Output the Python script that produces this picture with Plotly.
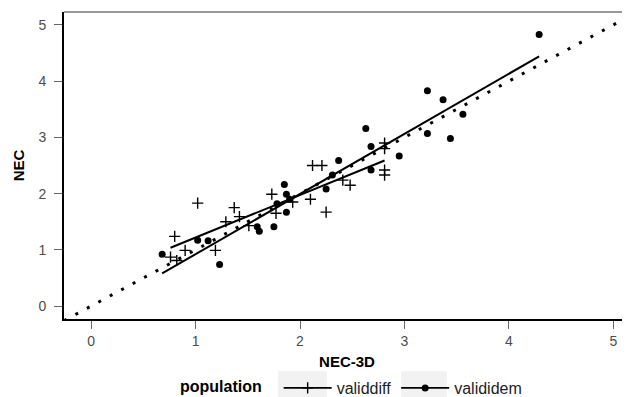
import numpy as np
import plotly.graph_objects as go

# validdiff group (crosses)
diff_x = [0.76, 0.82, 0.80, 0.90, 1.02, 1.19, 1.29, 1.37, 1.42, 1.51, 1.73, 1.77, 1.93,
          2.10, 2.12, 2.21, 2.25, 2.41, 2.48, 2.81, 2.81, 2.81, 2.81]
diff_y = [0.87, 0.81, 1.24, 0.99, 1.83, 0.99, 1.50, 1.75, 1.59, 1.43, 1.99, 1.65, 1.85,
          1.90, 2.50, 2.50, 1.67, 2.24, 2.15, 2.90, 2.80, 2.42, 2.33]

# valididem group (dots)
dem_x = [0.68, 1.02, 1.12, 1.23, 1.59, 1.61, 1.75, 1.78, 1.85, 1.87, 1.87, 1.90, 2.25,
         2.31, 2.37, 2.63, 2.68, 2.68, 2.95, 3.22, 3.22, 3.37, 3.44, 3.56, 4.29]
dem_y = [0.92, 1.17, 1.16, 0.74, 1.41, 1.33, 1.41, 1.82, 2.16, 1.99, 1.67, 1.90, 2.08,
         2.33, 2.59, 3.16, 2.84, 2.42, 2.67, 3.83, 3.07, 3.67, 2.98, 3.41, 4.83]

x_ticks = [0, 1, 2, 3, 4, 5]
y_ticks = [0, 1, 2, 3, 4, 5]
identity_range = [-0.26, 5.2]
groups = ["validdiff", "valididem"]

FONT = "Liberation Sans, Arial, sans-serif"
W, H = 630, 397
OFF = 8  # page body margin offset
ML, MR, MT, MB = 64 - OFF, OFF, 12 - OFF, H - (319 - OFF)


def fit_line(xs, ys):
    xs = np.asarray(xs); ys = np.asarray(ys)
    b, a = np.polyfit(xs, ys, 1)
    lx = np.array([xs.min(), xs.max()])
    return lx, a + b * lx


fig = go.Figure()

# identity dotted line
fig.add_trace(go.Scatter(x=identity_range, y=identity_range, mode="lines",
                         line=dict(color="black", width=3, dash="3px,10px"),
                         showlegend=False, hoverinfo="skip"))

cross_marker = dict(symbol="cross-thin-open", size=8, color="black",
                    line=dict(width=1.4, color="black"))
dot_marker = dict(symbol="circle", size=7, color="black")

# points
fig.add_trace(go.Scatter(x=diff_x, y=diff_y, mode="markers", marker=cross_marker,
                         showlegend=False))
fig.add_trace(go.Scatter(x=dem_x, y=dem_y, mode="markers", marker=dot_marker,
                         showlegend=False))

# regression lines
lx, ly = fit_line(diff_x, diff_y)
fig.add_trace(go.Scatter(x=lx, y=ly, mode="lines", line=dict(color="black", width=2),
                         showlegend=False))
lx, ly = fit_line(dem_x, dem_y)
fig.add_trace(go.Scatter(x=lx, y=ly, mode="lines", line=dict(color="black", width=2),
                         showlegend=False))

# legend entries
fig.add_trace(go.Scatter(x=[None], y=[None], mode="lines+markers", name=groups[0],
                         line=dict(color="black", width=1.6), marker=cross_marker))
fig.add_trace(go.Scatter(x=[None], y=[None], mode="lines+markers", name=groups[1],
                         line=dict(color="black", width=1.6), marker=dot_marker))

axis_common = dict(showgrid=False, zeroline=False, ticks="outside", ticklen=8,
                   tickwidth=1.2, tickcolor="#666666", showline=True,
                   linecolor="black", linewidth=2, automargin=False,
                   tickfont=dict(family=FONT, size=14, color="#4d4d4d"))


def vx(px):  # viewport px -> paper x
    return (px - OFF - ML) / (W - ML - MR)


def vy(py):  # viewport py -> paper y
    return (H - MB - (py - OFF)) / (H - MT - MB)


# grey key backgrounds (ggplot style)
key_boxes = [(278, 327), (401, 447)]
shapes = [dict(type="line", xref="paper", yref="paper", x0=0, x1=1.02, y0=1, y1=1,
               line=dict(color="#777777", width=1.5))]
for x0, x1 in key_boxes:
    shapes.append(dict(type="rect", xref="paper", yref="paper", layer="below",
                       x0=vx(x0), x1=vx(x1), y0=vy(371), y1=vy(400),
                       fillcolor="#f2f2f2", line=dict(width=0)))

fig.update_layout(
    width=W, height=H,
    margin=dict(l=ML, r=MR, t=MT, b=MB, autoexpand=False),
    plot_bgcolor="white", paper_bgcolor="white",
    xaxis=dict(range=[-0.26, 5.16], tickvals=x_ticks,
               title=dict(text="<b>NEC-3D</b>", font=dict(family=FONT, size=15, color="black"),
                          standoff=9),
               **axis_common),
    yaxis=dict(range=[-0.23, 5.23], tickvals=y_ticks, ticklabelstandoff=5,
               title=dict(text="<b>NEC</b>", font=dict(family=FONT, size=15, color="black"),
                          standoff=10),
               **axis_common),
    legend=dict(orientation="h", xref="container", yref="container",
                x=(178 - OFF) / W, xanchor="left", y=1 - (388 - OFF) / H, yanchor="middle",
                itemwidth=48,
                title=dict(text="<b>population</b>&nbsp;&nbsp;",
                           font=dict(family=FONT, size=16, color="black")),
                font=dict(family=FONT, size=16, color="#222222"),
                bgcolor="rgba(0,0,0,0)"),
    shapes=shapes,
    showlegend=True,
)

fig.write_html("out.html")
